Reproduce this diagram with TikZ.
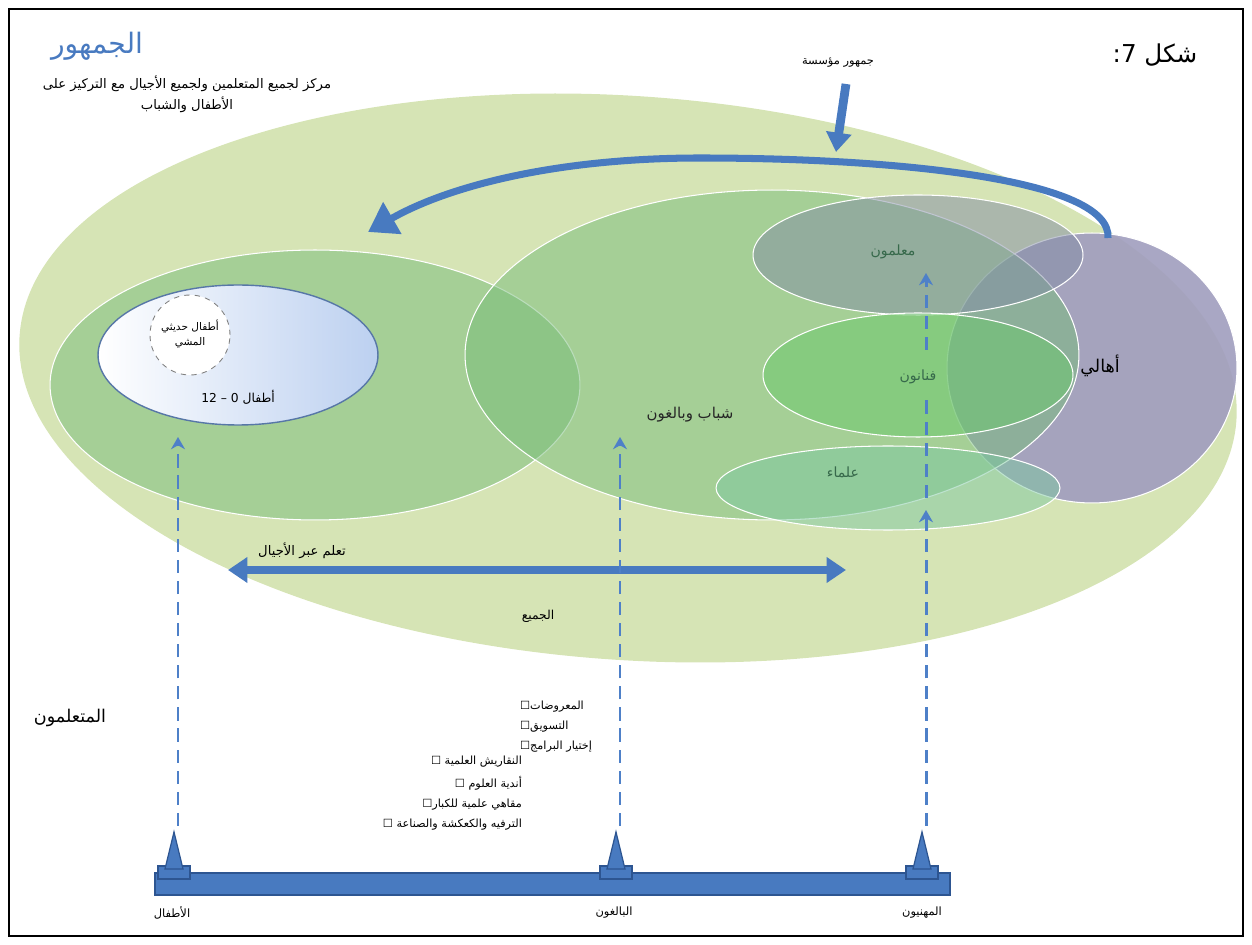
\documentclass[tikz,border=0pt]{standalone}
\usepackage{fontspec}
\newfontfamily\arabicfont[Script=Arabic]{DejaVu Sans}
\newfontfamily\symfont{DejaVu Sans}
\TeXXeTstate=1
\usetikzlibrary{arrows.meta}

\definecolor{bgGreen}{RGB}{214,228,181}
\definecolor{zoneGreen}{RGB}{118,188,120}
\definecolor{teachGray}{RGB}{130,140,165}
\definecolor{artGreen}{RGB}{105,200,105}
\definecolor{sciGreen}{RGB}{125,200,160}
\definecolor{parentLav}{RGB}{160,157,190}
\definecolor{arrowBlue}{RGB}{72,122,192}
\definecolor{edgeBlue}{RGB}{45,85,145}
\definecolor{dashBlue}{RGB}{78,128,200}
\definecolor{kidBlue}{RGB}{188,208,240}
\definecolor{labelGreen}{RGB}{55,105,75}

\newcommand{\artext}[1]{{\arabicfont\beginR #1\endR}}
\newcommand{\fsz}[1]{\fontsize{#1}{#1}\selectfont}

\tikzset{
  zone/.style={draw=white, line width=0.6pt, fill opacity=0.5},
  lbl/.style={font=\arabicfont\fsz{7}, inner sep=1pt},
  dasharrow/.style={draw=dashBlue, line width=1.7pt, dash pattern=on 7.5pt off 4.5pt,
    -{Stealth[length=7pt,width=8pt]}},
  dashline/.style={draw=dashBlue, line width=1.7pt, dash pattern=on 7.5pt off 4.5pt},
  blockarrow/.style={draw=arrowBlue, line width=4pt},
  barpart/.style={fill=arrowBlue, draw=edgeBlue, line width=0.7pt}
}

\begin{document}
\begin{tikzpicture}[x=0.02cm,y=-0.02cm]
\useasboundingbox (0,0) rectangle (1252,945);
\draw[line width=0.6pt] (9,9) rectangle (1243,936);

% audience zones
\fill[bgGreen, rotate around={-4:(628,378)}] (628,378) ellipse [x radius=12.2cm, y radius=5.64cm];
\path[zone, fill=parentLav, fill opacity=0.9] (1092,368) ellipse [x radius=2.9cm, y radius=2.7cm];
\path[zone, fill=zoneGreen] (315,385) ellipse [x radius=5.3cm, y radius=2.7cm];
\path[zone, fill=zoneGreen] (772,355) ellipse [x radius=6.14cm, y radius=3.3cm];
\path[zone, fill=teachGray] (918,255) ellipse [x radius=3.3cm, y radius=1.2cm];
\path[zone, fill=artGreen] (918,375) ellipse [x radius=3.1cm, y radius=1.24cm];
\path[zone, fill=sciGreen] (888,488) ellipse [x radius=3.44cm, y radius=0.84cm];

% children
\shade[left color=white, right color=kidBlue, draw=edgeBlue!80, line width=0.8pt]
  (238,355) ellipse [x radius=2.8cm, y radius=1.4cm];
\draw[fill=white, draw=gray, dashed, line width=0.5pt] (190,335) circle [radius=0.8cm];

% labels
\node[lbl, font=\arabicfont\fsz{6}, align=center] (toddlers) at (190,334)
  {\artext{أطفال حديثي}\\[1pt]\artext{المشي}};
\node[lbl] (kids) at (238,397) {\artext{أطفال \beginL0\endL{} – \beginL12\endL}};
\node[lbl, font=\arabicfont\fsz{8.5}, text=black!85] (youth) at (690,415) {\artext{شباب وبالغون}};
\node[lbl, font=\arabicfont\fsz{8}, text=labelGreen] (teachers) at (893,252) {\artext{معلمون}};
\node[lbl, font=\arabicfont\fsz{8}, text=labelGreen] (artists) at (918,377) {\artext{فنانون}};
\node[lbl, font=\arabicfont\fsz{8}, text=labelGreen] (scientists) at (843,472) {\artext{علماء}};
\node[lbl, font=\arabicfont\fsz{10}] (parents) at (1100,366) {\artext{أهالي}};
\node[lbl] (everyone) at (538,616) {\artext{الجميع}};
\node[lbl, font=\arabicfont\fsz{7.5}] (across) at (302,551) {\artext{تعلم عبر الأجيال}};
\node[lbl, font=\arabicfont\fsz{10}] (learners) at (70,718) {\artext{المتعلمون}};
\node[lbl, font=\arabicfont\fsz{6.5}] (inst) at (838,63) {\artext{جمهور مؤسسة}};

% title block
\node[lbl, font=\arabicfont\fsz{16}, text=arrowBlue] (title) at (97,46) {\artext{الجمهور}};
\node[lbl, font=\arabicfont\fsz{7.5}, align=center] (subtitle) at (187,94)
  {\artext{مركز لجميع المتعلمين ولجميع الأجيال مع التركيز على}\\[2pt]\artext{الأطفال والشباب}};
\node[lbl, font=\arabicfont\fsz{14}] (fig) at (1155,55) {\artext{شكل \beginL7\endL:}};

% programme list
\node[lbl, anchor=north west, align=left, font=\arabicfont\fsz{6.4}] (listA) at (518,699)
  {{\symfont ☐}\artext{المعروضات}\\[4pt]{\symfont ☐}\artext{التسويق}\\[4pt]{\symfont ☐}\artext{إختيار البرامج}};
\node[lbl, anchor=north east, align=right, font=\arabicfont\fsz{6.4}] (listB) at (524,754)
  {{\symfont ☐} \artext{النقاريش العلمية}\\[4pt]{\symfont ☐} \artext{أندية العلوم}\\[4pt]{\symfont ☐}\artext{مقاهي علمية للكبار}\\[4pt]{\symfont ☐} \artext{الترفيه والكعكشة والصناعة}};

% institution arrow and return curve
\coordinate (instTop) at (846,84);
\coordinate (instTip) at (836,152);
\draw[blockarrow, line width=5pt, -{Triangle[length=11pt,width=14pt]}] (instTop) -- (instTip);
\coordinate (curveStart) at (1108,238);
\coordinate (curveTip) at (368,232);
\draw[blockarrow, -{Triangle[length=16pt,width=20pt]}] (curveStart)
  .. controls (1112,180) and (900,158) .. (700,158)
  .. controls (560,158) and (450,185) .. (curveTip);

% learning across generations
\coordinate (acrossL) at (228,570);
\coordinate (acrossR) at (846,570);
\draw[blockarrow, {Triangle[length=11pt,width=14pt]}-{Triangle[length=11pt,width=14pt]}] (acrossL) -- (acrossR);

% bottom bar
\draw[barpart] (155,873) rectangle (950,895);
\foreach \xm/\nm in {174/kidsBase, 616/adultsBase, 922/proBase}{
  \draw[barpart] (\xm-16,866) rectangle (\xm+16,879);
  \draw[barpart] (\xm,832) -- (\xm-9,869) -- (\xm+9,869) -- cycle;
  \coordinate (\nm) at (\xm+4,826);
}
\node[lbl, font=\arabicfont\fsz{6.5}] (kidsLbl) at (172,913) {\artext{الأطفال}};
\node[lbl, font=\arabicfont\fsz{6.5}] (adultsLbl) at (614,913) {\artext{البالغون}};
\node[lbl, font=\arabicfont\fsz{6.5}] (proLbl) at (922,913) {\artext{المهنيون}};

% dashed arrows
\coordinate (kidsTip) at (178,437);
\coordinate (adultsTip) at (620,437);
\coordinate (sciTip) at (926,510);
\coordinate (artTail) at (926,498);
\coordinate (artTop) at (926,400);
\coordinate (teachTail) at (926,350);
\coordinate (teachTip) at (926,273);
\draw[dasharrow] (kidsBase) -- (kidsTip);
\draw[dasharrow] (adultsBase) -- (adultsTip);
\draw[dasharrow] (proBase) -- (sciTip);
\draw[dashline] (artTail) -- (artTop);
\draw[dasharrow] (teachTail) -- (teachTip);

\end{tikzpicture}
\end{document}
